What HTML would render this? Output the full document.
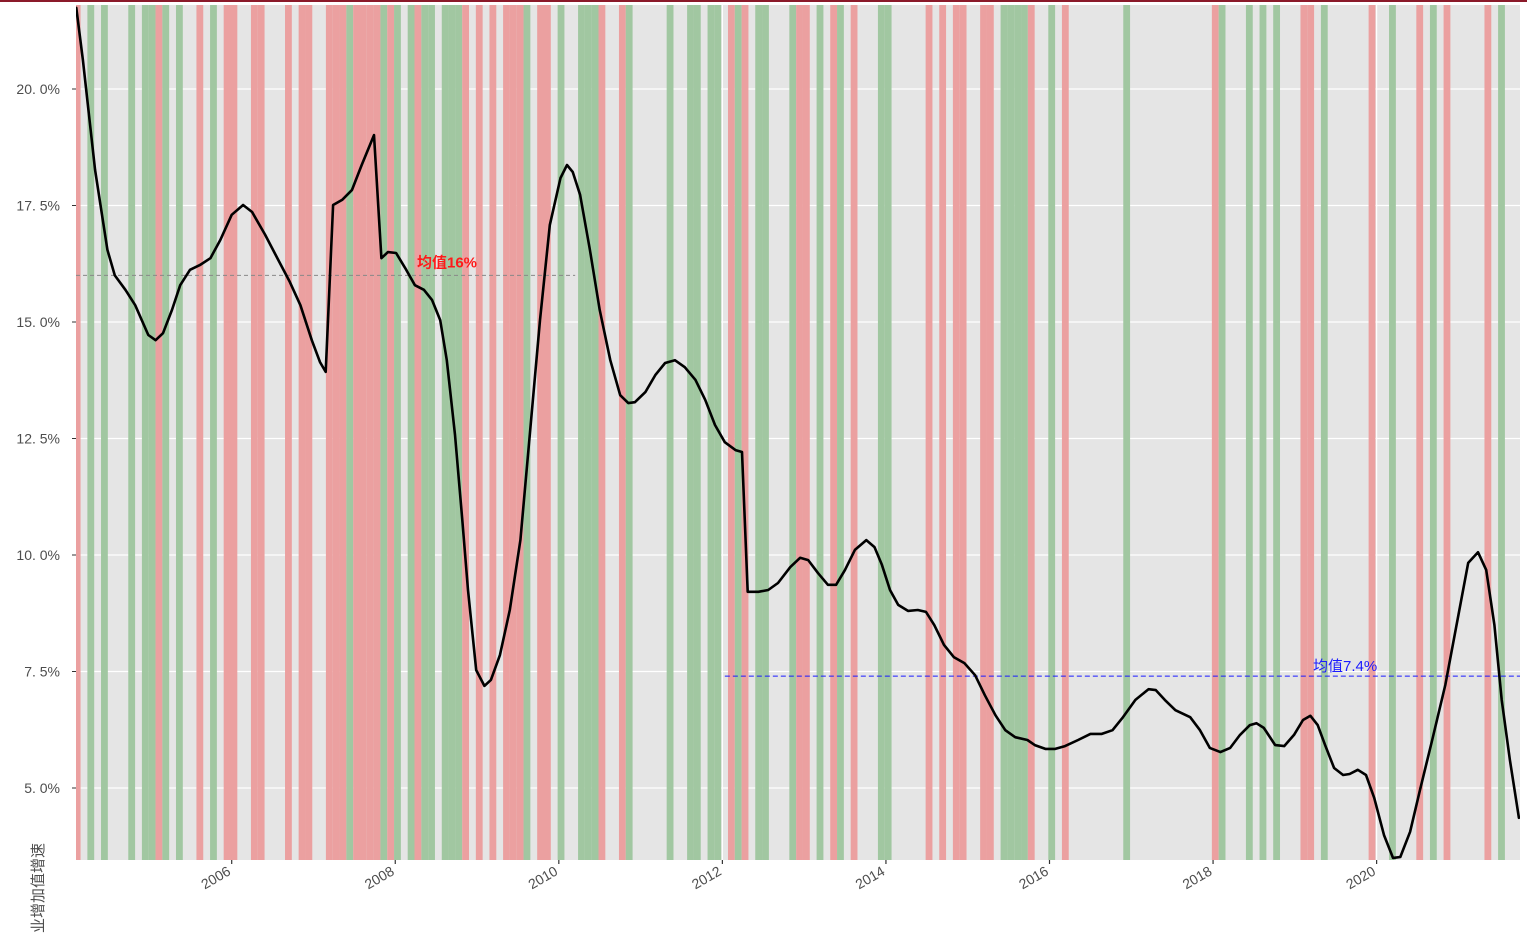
<!DOCTYPE html>
<html><head><meta charset="utf-8"><style>
html,body{margin:0;padding:0;background:#fff;width:1527px;height:933px;overflow:hidden}
svg{display:block}
text{font-family:"Liberation Sans","Noto Sans CJK SC",sans-serif}
</style></head><body>
<svg id="chart" width="1527" height="933"></svg>
<script>
// data
const bandStart = 2004 + 1/12; // first month 2004-02
const bandColors = "r.g.g...g.ggrg.g..r.g.rr..rr...r.rr..rrrgrrrrgrg.grgg.gggr.r.r.rrrg.rr.g..gggr..rg.....g..gg.gg.rgr.gg...grr.g.rg.r...gg.....r.r.rr..rr.ggggr..g.r........g............rg...g.g.g...rr.g......r..g...r.g.r.....r.g";
const dates = [2004.10,2004.18,2004.33,2004.48,2004.57,2004.70,2004.82,2004.98,2005.07,2005.16,2005.27,2005.37,2005.49,2005.61,2005.74,2005.86,2006.00,2006.14,2006.25,2006.41,2006.57,2006.71,2006.84,2006.98,2007.08,2007.15,2007.24,2007.35,2007.47,2007.59,2007.74,2007.83,2007.91,2008.01,2008.12,2008.24,2008.35,2008.45,2008.55,2008.63,2008.73,2008.82,2008.89,2008.99,2009.09,2009.17,2009.28,2009.40,2009.53,2009.65,2009.77,2009.89,2010.02,2010.10,2010.17,2010.26,2010.38,2010.50,2010.63,2010.75,2010.85,2010.93,2011.06,2011.18,2011.30,2011.42,2011.54,2011.67,2011.79,2011.91,2012.03,2012.16,2012.24,2012.31,2012.44,2012.56,2012.68,2012.83,2012.95,2013.05,2013.17,2013.29,2013.39,2013.50,2013.62,2013.76,2013.86,2013.95,2014.05,2014.15,2014.27,2014.39,2014.49,2014.59,2014.71,2014.83,2014.96,2015.09,2015.21,2015.34,2015.46,2015.58,2015.73,2015.82,2015.95,2016.07,2016.19,2016.35,2016.50,2016.64,2016.77,2016.89,2017.05,2017.21,2017.30,2017.41,2017.54,2017.72,2017.84,2017.96,2018.09,2018.21,2018.33,2018.45,2018.53,2018.62,2018.76,2018.87,2018.99,2019.10,2019.19,2019.28,2019.37,2019.48,2019.59,2019.67,2019.77,2019.87,2019.97,2020.09,2020.20,2020.29,2020.41,2020.53,2020.68,2020.84,2021.00,2021.12,2021.24,2021.34,2021.44,2021.53,2021.63,2021.74];
const values = [21.74,20.62,18.26,16.55,16.0,15.69,15.36,14.72,14.61,14.76,15.26,15.79,16.12,16.22,16.37,16.76,17.30,17.51,17.36,16.87,16.33,15.86,15.36,14.61,14.14,13.93,17.51,17.62,17.83,18.37,19.01,16.37,16.50,16.48,16.16,15.79,15.69,15.47,15.04,14.18,12.58,10.75,9.25,7.53,7.19,7.32,7.85,8.82,10.32,12.68,15.04,17.08,18.09,18.37,18.22,17.73,16.55,15.26,14.18,13.43,13.26,13.28,13.50,13.86,14.12,14.18,14.03,13.76,13.33,12.79,12.42,12.25,12.21,9.21,9.21,9.25,9.40,9.74,9.94,9.89,9.61,9.36,9.36,9.68,10.11,10.32,10.17,9.79,9.25,8.93,8.80,8.82,8.78,8.50,8.07,7.81,7.68,7.42,6.99,6.56,6.24,6.09,6.03,5.92,5.84,5.84,5.90,6.03,6.16,6.16,6.24,6.50,6.89,7.12,7.10,6.89,6.67,6.52,6.24,5.86,5.77,5.86,6.14,6.35,6.39,6.29,5.92,5.90,6.14,6.46,6.55,6.35,5.92,5.43,5.28,5.30,5.39,5.28,4.79,3.99,3.50,3.52,4.06,4.96,6.03,7.21,8.71,9.83,10.06,9.68,8.50,6.89,5.60,4.36];
const yTicks = [5,7.5,10,12.5,15,17.5,20];
const yTickLabels = ["5. 0%","7. 5%","10. 0%","12. 5%","15. 0%","17. 5%","20. 0%"];
const xTicks = [2006,2008,2010,2012,2014,2016,2018,2020];
const xTickLabels = ["2006","2008","2010","2012","2014","2016","2018","2020"];
const meanEarly = 16, meanEarlyEnd = 2010.2, meanEarlyLabel = "均值16%";
const meanLate = 7.4, meanLateStart = 2012.03, meanLateLabel = "均值7.4%";

const NS = "http://www.w3.org/2000/svg";
const svg = document.getElementById('chart');
const L=76,R=1520,T=5,B=860;
const X = t => 231.7 + (t-2006)*81.78;
const Y = v => 788 - (v-5)*46.6;
function mk(tag, attrs, parent){const e=document.createElementNS(NS,tag);for(const k in attrs)e.setAttribute(k,attrs[k]);(parent||svg).appendChild(e);return e;}

const topBorder = mk('rect',{x:0,y:0,width:1527,height:2,fill:'#8b1a2a'});



const clipEl = mk('clipPath',{id:'pc'});
mk('rect',{x:L,y:T,width:R-L,height:B-T},clipEl);

const panel = mk('rect',{x:L,y:T,width:R-L,height:B-T,fill:'#e5e5e5'});



const g = mk('g',{'clip-path':'url(#pc)'});



// grid
yTicks.forEach((v,i)=>{
  const ln = mk('line',{x1:L,x2:R,y1:Y(v),y2:Y(v),stroke:'#fff','stroke-width':1.2},g);
  
  
});
xTicks.forEach(t=>{
  const ln = mk('line',{x1:X(t),x2:X(t),y1:T,y2:B,stroke:'#fff','stroke-width':1.2},g);
  
  
});

// bands
for(let k=0;k<bandColors.length;k++){
  const c = bandColors[k];
  if(c==='.') continue;
  const t = bandStart + k/12;
  const x0 = X(t)-1.2, w = 81.78/12;
  const r = mk('rect',{x:x0,y:T,width:w,height:B-T,fill:c==='r'?'#eba0a0':'#a1c7a1'},g);
  
  
}

// mean lines
const m1 = mk('line',{x1:L,x2:X(meanEarlyEnd),y1:Y(meanEarly),y2:Y(meanEarly),stroke:'#888','stroke-width':1,'stroke-dasharray':'4,3'},g);


const m2 = mk('line',{x1:X(meanLateStart),x2:R,y1:Y(meanLate),y2:Y(meanLate),stroke:'#1a1aff','stroke-width':1,'stroke-dasharray':'5,3'},g);



// series line
let d='';
dates.forEach((t,i)=>{d += (i?'L':'M') + X(t).toFixed(1)+','+Y(values[i]).toFixed(1);});
const seriesPath = mk('path',{d:d,fill:'none',stroke:'#000','stroke-width':2.6,'stroke-linejoin':'round','stroke-linecap':'round'},g);



// mean labels
const t1 = mk('text',{x:417,y:Y(meanEarly)-8,fill:'#ff1a1a','font-size':15,'font-weight':'bold'});
t1.textContent = meanEarlyLabel;


const t2 = mk('text',{x:1313,y:Y(meanLate)-5,fill:'#1a1aff','font-size':15});
t2.textContent = meanLateLabel;



// y ticks
yTicks.forEach((v,i)=>{
  const tk = mk('line',{x1:L-4,x2:L,y1:Y(v),y2:Y(v),stroke:'#333','stroke-width':1});
  
  
  const tx = mk('text',{x:L-16,y:Y(v)+5,'text-anchor':'end',fill:'#4d4d4d','font-size':14});
  tx.textContent = yTickLabels[i];
  
  
});
// x ticks
xTicks.forEach((t,i)=>{
  const x = X(t);
  const tk = mk('line',{x1:x,x2:x,y1:B,y2:B+4,stroke:'#333','stroke-width':1.2});
  
  
  const tx = mk('text',{x:x,y:B+14,'text-anchor':'end',fill:'#4d4d4d','font-size':14,transform:`rotate(-30 ${x} ${B+14})`});
  tx.textContent = xTickLabels[i];
  
  
});
// y title
const yt = mk('text',{x:0,y:0,fill:'#4d4d4d','font-size':15,'text-anchor':'start',transform:'translate(43 948) rotate(-90)'});
yt.textContent = '工业增加值增速';


</script>
</body></html>
